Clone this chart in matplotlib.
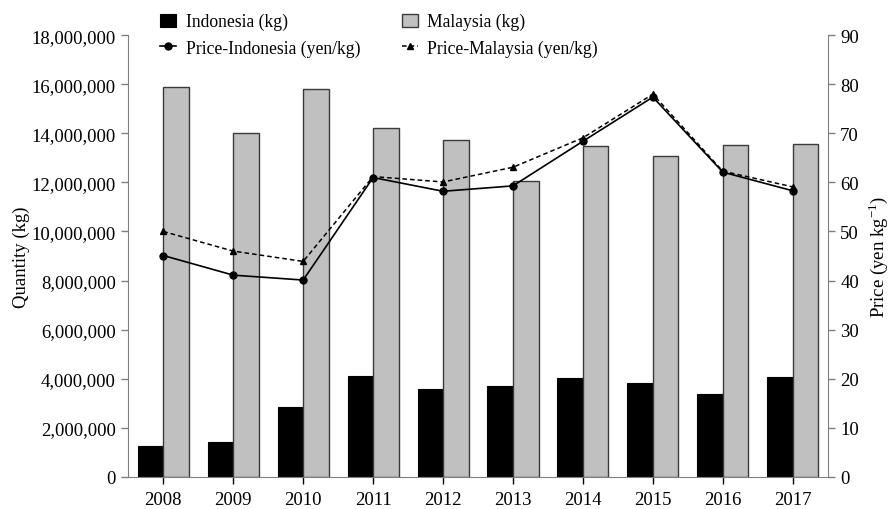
import matplotlib
matplotlib.use("Agg")
import matplotlib.pyplot as plt
import numpy as np

plt.rcParams['font.family'] = ['Liberation Serif', 'DejaVu Serif']
plt.rcParams['mathtext.fontset'] = 'custom'
plt.rcParams['mathtext.rm'] = 'Liberation Serif'

years = ['2008', '2009', '2010', '2011', '2012', '2013', '2014', '2015', '2016', '2017']
qty_indonesia = [1260000, 1400000, 2850000, 4110000, 3590000, 3710000, 4010000, 3820000, 3360000, 4050000]
qty_malaysia = [15890000, 14000000, 15800000, 14210000, 13730000, 12070000, 13500000, 13080000, 13540000, 13570000]
price_indonesia = [45.1, 41.1, 40.1, 61.0, 58.2, 59.3, 68.4, 77.4, 62.1, 58.3]
price_malaysia = [50.0, 46.0, 43.9, 61.2, 60.1, 63.1, 69.1, 78.0, 62.3, 59.1]

spine_col = '#808080'
fig = plt.figure(figsize=(8.9, 5.1), dpi=100)
ax = fig.add_axes([0.1442, 0.0633, 0.7858, 0.8655])
x = np.arange(len(years))
w = 0.365

b1 = ax.bar(x - w / 2, qty_indonesia, w, color='black', edgecolor='black', linewidth=0.8,
            label='Indonesia (kg)', zorder=2)
b2 = ax.bar(x + w / 2, qty_malaysia, w, color='#c0c0c0', edgecolor='#3a3a3a', linewidth=1.0,
            label='Malaysia (kg)', zorder=2)

ax.set_xlim(-0.5, len(years) - 0.5)
ax.set_ylim(0, 18000000)
ax.set_yticks(np.arange(0, 18000001, 2000000))
ax.yaxis.set_major_formatter(matplotlib.ticker.FuncFormatter(lambda v, p: f'{int(v):,}'))
ax.set_xticks(x)
ax.set_xticklabels(years)
ax.set_ylabel('Quantity (kg)', fontsize=13.5, labelpad=1)

ax2 = ax.twinx()
l1, = ax2.plot(x, price_indonesia, color='black', lw=1.2, marker='o', ms=5,
               label='Price-Indonesia (yen/kg)', zorder=3)
l2, = ax2.plot(x, price_malaysia, color='black', lw=1.1, ls=(0, (3, 2)), marker='^', ms=5,
               label='Price-Malaysia (yen/kg)', zorder=3)
ax2.set_ylim(0, 90)
ax2.set_yticks(np.arange(0, 91, 10))
ax2.set_ylabel('Price (yen kg$^{-1}$)', fontsize=13.5, labelpad=5)

for a in (ax, ax2):
    for s in a.spines.values():
        s.set_color(spine_col)
    a.spines['top'].set_visible(False)
    a.tick_params(axis='both', which='major', labelsize=13.5, direction='out', length=5,
                  color=spine_col, width=1, pad=4)
ax.spines['right'].set_visible(False)
ax2.spines['left'].set_visible(False)
ax2.spines['bottom'].set_visible(False)
ax.tick_params(axis='x', length=5, color='black', pad=5)

fig.legend([b1, l1, b2, l2],
           ['Indonesia (kg)', 'Price-Indonesia (yen/kg)', 'Malaysia (kg)', 'Price-Malaysia (yen/kg)'],
           ncol=2, frameon=False, fontsize=12.7, loc='upper left', bbox_to_anchor=(0.168, 0.993),
           handlelength=0.9, handleheight=0.8, handletextpad=0.55, columnspacing=2.35,
           labelspacing=0.5, borderaxespad=0.2)

fig.savefig('out.png', dpi=100)
